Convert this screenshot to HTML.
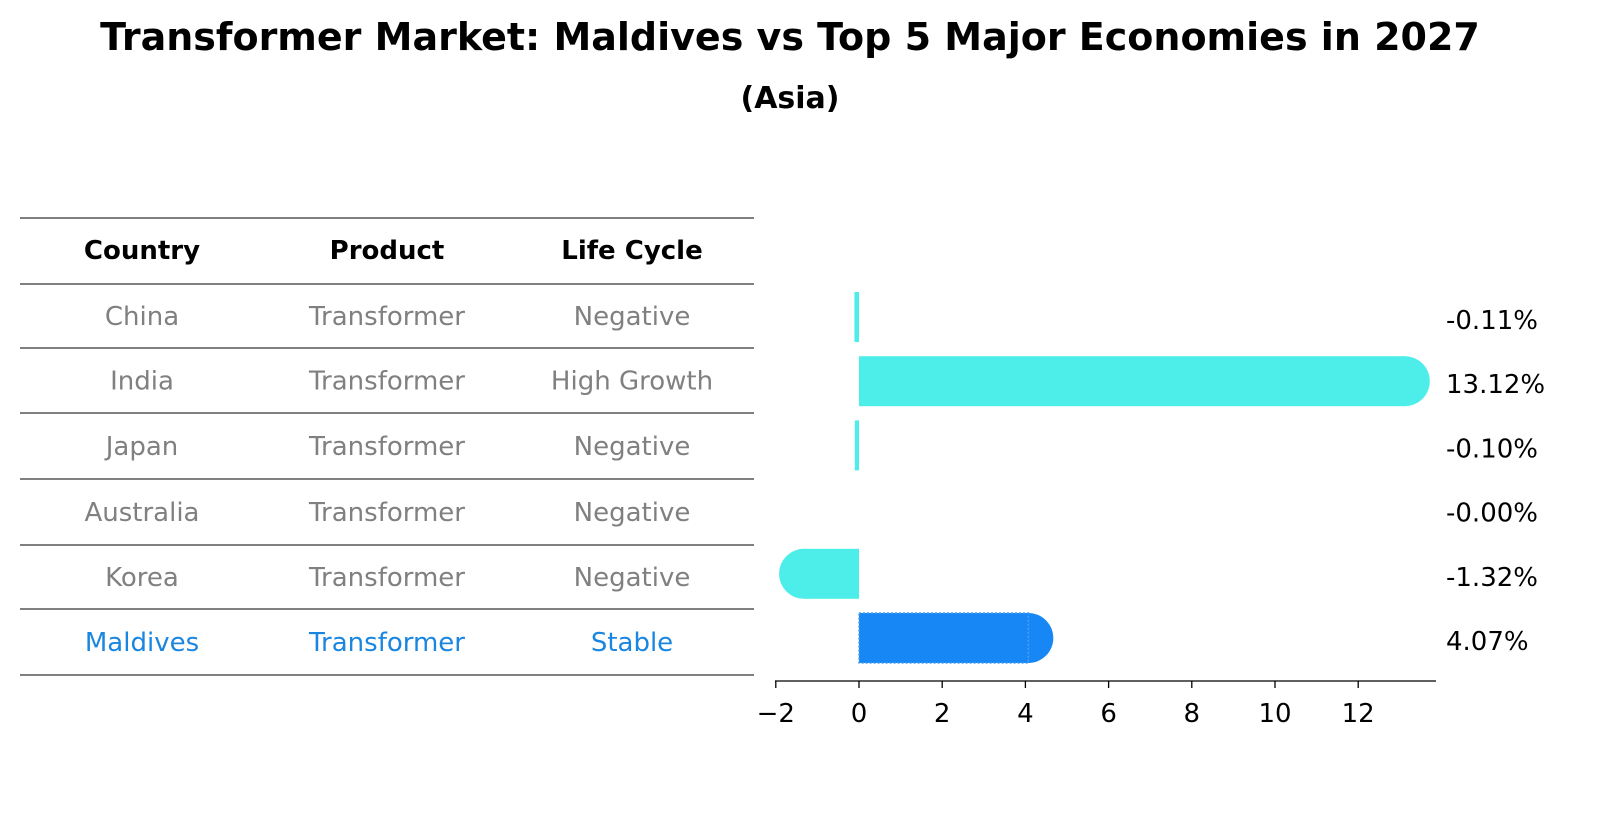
<!DOCTYPE html>
<html><head><meta charset="utf-8">
<style>
html,body{margin:0;padding:0;width:1604px;height:823px;overflow:hidden;background:#fff;font-family:"Liberation Sans","DejaVu Sans",sans-serif;}
svg{display:block}
</style></head>
<body>
<svg width="1604" height="823" viewBox="0 0 1604 823" xmlns="http://www.w3.org/2000/svg">
<text x="790" y="50" text-anchor="middle" font-family="DejaVu Sans, sans-serif" font-weight="bold" font-size="38">Transformer Market: Maldives vs Top 5 Major Economies in 2027</text>
<text x="790" y="108" text-anchor="middle" font-family="DejaVu Sans, sans-serif" font-weight="bold" font-size="30">(Asia)</text>
<g id="table"></g>
<g id="bars"></g>
</svg>
<script>
const countries=["China","India","Japan","Australia","Korea","Maldives"];
const products=["Transformer","Transformer","Transformer","Transformer","Transformer","Transformer"];
const lifecycles=["Negative","High Growth","Negative","Negative","Negative","Stable"];
const growth=[-0.11,13.12,-0.10,-0.00,-1.32,4.07];
const valueLabels=["-0.11%","13.12%","-0.10%","-0.00%","-1.32%","4.07%"];
const ticks=[-2,0,2,4,6,8,10,12];

const NS="http://www.w3.org/2000/svg";
function mk(tag,attrs,parent,text){const e=document.createElementNS(NS,tag);for(const k in attrs)e.setAttribute(k,attrs[k]);if(text!==undefined)e.textContent=text;parent.appendChild(e);return e;}
const FONT="DejaVu Sans, sans-serif";
const FS=26;
const tb=document.getElementById('table');
const lines=[218,284,348,413,479,545,609,675];
lines.forEach(y=>{const l=mk('line',{x1:20,x2:754,y1:y,y2:y,stroke:'#000','stroke-width':1},tb);

});
const colX=[142,387,632];
["Country","Product","Life Cycle"].forEach((h,i)=>{const t=mk('text',{x:colX[i],y:259,'text-anchor':'middle','font-family':FONT,'font-weight':'bold','font-size':FS},tb,h);

});
for(let r=0;r<countries.length;r++){
 const y=(lines[r+1]+lines[r+2])/2+9;
 const col=r===countries.length-1?'#1a86e0':'#808080';
 [countries[r],products[r],lifecycles[r]].forEach((v,i)=>{const t=mk('text',{x:colX[i],y:y,'text-anchor':'middle','font-family':FONT,'font-size':FS,fill:col},tb,v);
 
 });
}
const bg=document.getElementById('bars');
const x0=859,unit=41.6;
const xs=v=>x0+v*unit;
const rowY=i=>317+i*64.2;
const h=50,r=25;
growth.forEach((v,i)=>{
 const cy=rowY(i);
 const maj=i===growth.length-1;
 const color=maj?'#1787f5':'#4deeea';
 const xa=Math.min(xs(0),xs(v)),xb=Math.max(xs(0),xs(v));
 const g=mk('g',{},bg);
 
 
 mk('rect',{x:xa,y:cy-h/2,width:Math.max(xb-xa,0.01),height:h,fill:color},g);
 if(Math.abs(v)*unit>r){mk('circle',{cx:xs(v),cy:cy,r:r,fill:color},g);}
 if(maj){mk('rect',{x:xa,y:cy-h/2,width:xb-xa,height:h,fill:'none',stroke:'#4a9ff0','stroke-width':1.5,'stroke-dasharray':'2,2'},g);}
 const t=mk('text',{x:1446,y:cy+12,'font-family':FONT,'font-size':FS},bg,valueLabels[i]);
 
 
});
const ax=mk('line',{x1:775,x2:1436,y1:681,y2:681,stroke:'#000','stroke-width':1.3},bg);


ticks.forEach(t=>{
 mk('line',{x1:xs(t),x2:xs(t),y1:681,y2:688,stroke:'#000','stroke-width':1.3},bg);
 const tx=mk('text',{x:xs(t),y:722,'text-anchor':'middle','font-family':FONT,'font-size':FS},bg,t<0?'\u2212'+Math.abs(t):String(t));
 
 
});
</script>
</body></html>
